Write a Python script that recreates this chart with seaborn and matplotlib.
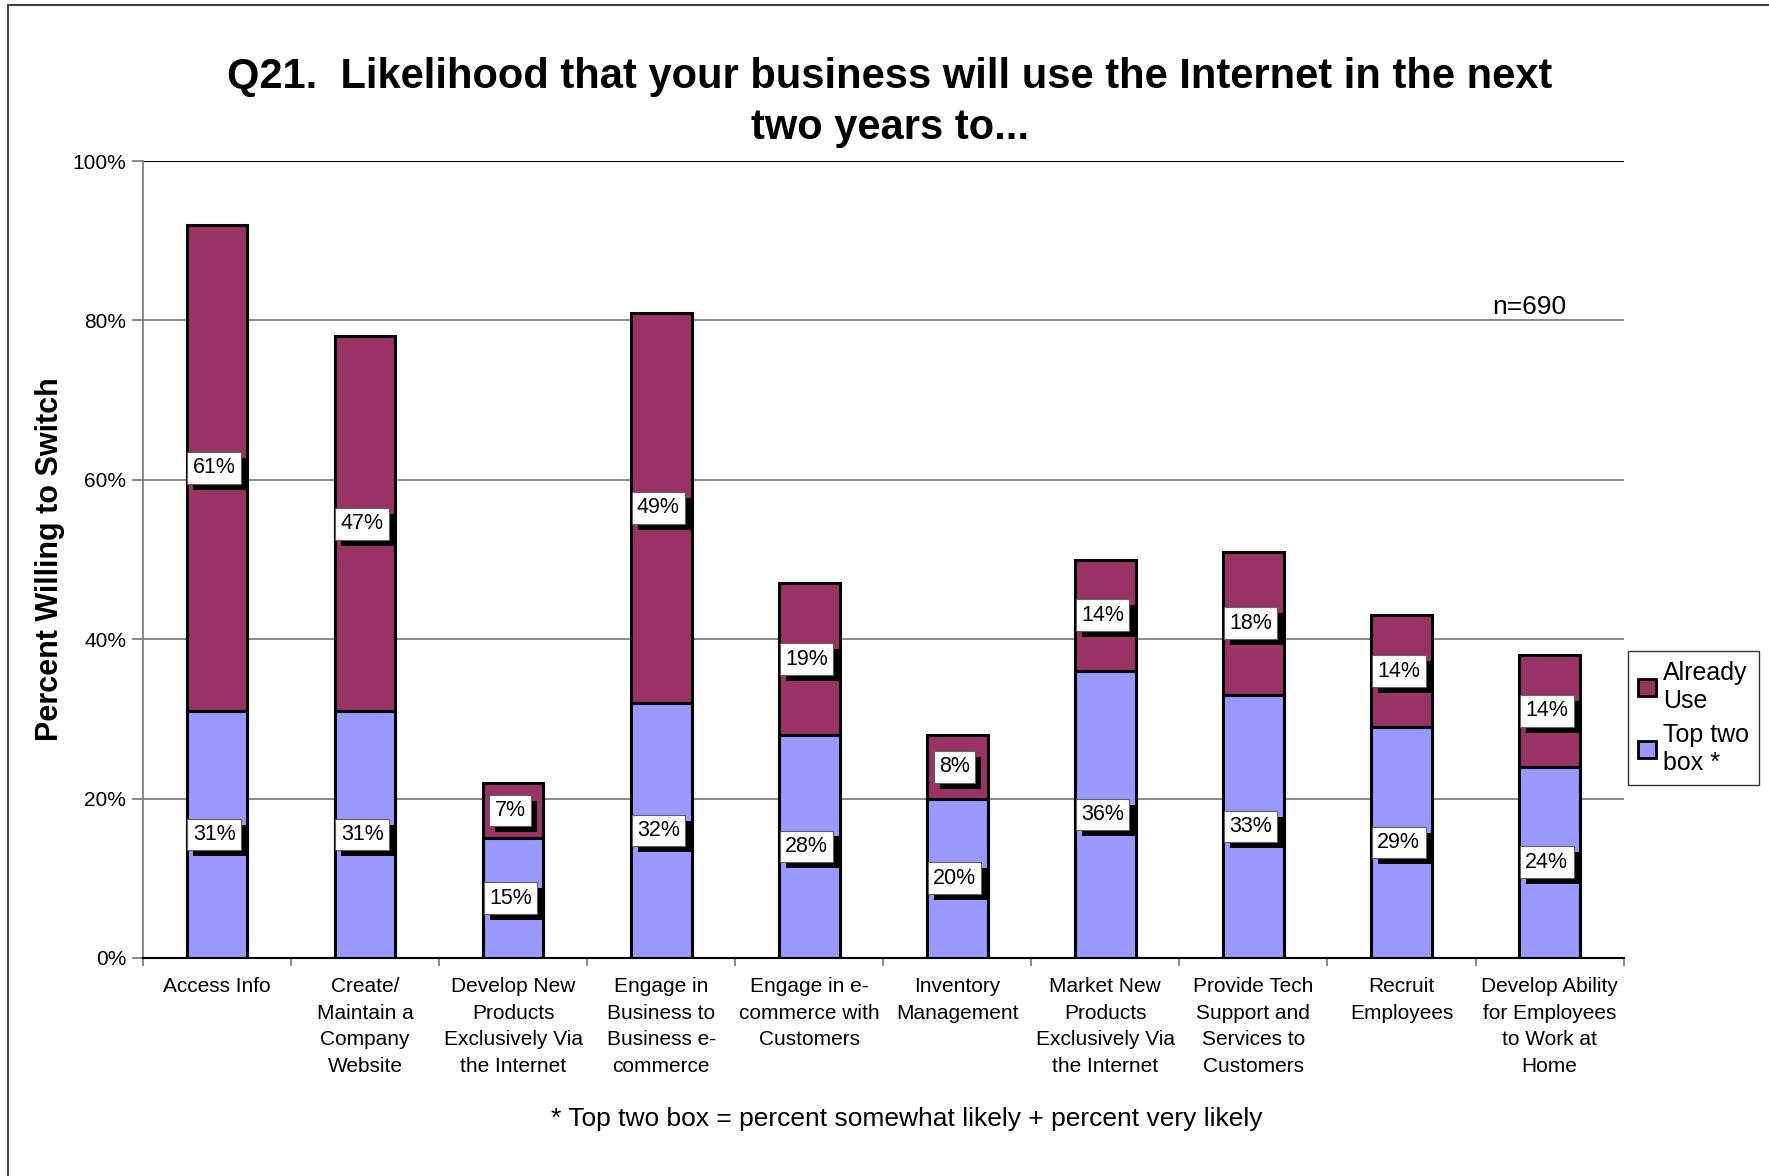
import matplotlib
matplotlib.use("Agg")
import matplotlib.pyplot as plt
import matplotlib.patches as mpatches
import matplotlib.patheffects as pe
import numpy as np
import pandas as pd
import seaborn as sns

categories = [
    "Access Info",
    "Create/\nMaintain a\nCompany\nWebsite",
    "Develop New\nProducts\nExclusively Via\nthe Internet",
    "Engage in\nBusiness to\nBusiness e-\ncommerce",
    "Engage in e-\ncommerce with\nCustomers",
    "Inventory\nManagement",
    "Market New\nProducts\nExclusively Via\nthe Internet",
    "Provide Tech\nSupport and\nServices to\nCustomers",
    "Recruit\nEmployees",
    "Develop Ability\nfor Employees\nto Work at\nHome",
]
top_two = [31, 31, 15, 32, 28, 20, 36, 33, 29, 24]
already_use = [61, 47, 7, 49, 19, 8, 14, 18, 14, 14]
y_ticks = [0, 20, 40, 60, 80, 100]

MAROON = "#993366"
BLUE = "#9999FF"

sns.set_theme(style="white")
plt.rcParams["font.family"] = ["Liberation Sans", "DejaVu Sans"]
plt.rcParams["text.color"] = "black"
plt.rcParams["axes.labelcolor"] = "black"

df = pd.DataFrame({"cat": categories, "top": top_two, "use": already_use})
df["total"] = df["top"] + df["use"]

fig = plt.figure(figsize=(17.69, 11.76), dpi=100)
ax = fig.add_axes([0.0808, 0.1854, 0.837, 0.6776])

# stacked bars: draw totals first, then the lower segment on top
sns.barplot(data=df, x="cat", y="total", color=MAROON, width=0.41,
            edgecolor="black", linewidth=2.2, saturation=1, ax=ax, zorder=3)
sns.barplot(data=df, x="cat", y="top", color=BLUE, width=0.41,
            edgecolor="black", linewidth=2.2, saturation=1, ax=ax, zorder=4)

ax.set_ylim(0, 100)
ax.set_xlim(-0.5, len(categories) - 0.5)
ax.set_yticks(y_ticks)
ax.set_yticklabels([f"{t}%" for t in y_ticks], fontsize=15)
ax.yaxis.grid(True, color="#808080", linewidth=1.3, zorder=0)
ax.axhline(100, color="black", linewidth=1.5, zorder=1)
ax.set_axisbelow(True)

ax.set_xticks(range(len(categories)))
ax.set_xticklabels(categories, fontsize=15, linespacing=1.5, va="top")
ax.tick_params(axis="x", which="major", length=0, pad=14, labelcolor="black")
ax.set_xticks(np.arange(-0.5, len(categories), 1.0), minor=True)
ax.tick_params(axis="x", which="minor", length=6, color="#808080", width=1.3,
               direction="out", bottom=True)
ax.tick_params(axis="y", length=8, color="#808080", width=1.3, left=True,
               direction="out", pad=4, labelcolor="black")

for side in ["top", "right"]:
    ax.spines[side].set_visible(False)
ax.spines["left"].set_color("#808080")
ax.spines["left"].set_linewidth(1.3)
ax.spines["bottom"].set_color("black")
ax.spines["bottom"].set_linewidth(1.5)

ax.set_xlabel("")
ax.set_ylabel("Percent Willing to Switch", fontsize=22, fontweight="bold")
ax.yaxis.set_label_coords(-0.0525, 0.5)

shadow = [pe.SimplePatchShadow(offset=(4.3, -4.3), shadow_rgbFace="black", alpha=1),
          pe.Normal()]


def label(x, y, txt):
    t = ax.annotate(txt, (x, y), xytext=(-2, 0), textcoords="offset points",
                    ha="center", va="center", fontsize=15.5, color="black",
                    bbox=dict(boxstyle="square,pad=0.25", fc="white",
                              ec="#606060", lw=0.8),
                    zorder=7)
    t.get_bbox_patch().set_path_effects(shadow)


for i, (t, u) in enumerate(zip(top_two, already_use)):
    label(i, t / 2, f"{t}%")
    label(i, t + u / 2, f"{u}%")

fig.text(0.503, 0.913, "Q21.  Likelihood that your business will use the Internet in the next\ntwo years to...",
         ha="center", va="center", fontsize=30, fontweight="bold", linespacing=1.37)
fig.text(0.8436, 0.739, "n=690", ha="left", va="center", fontsize=19)
fig.text(0.5127, 0.0485, "* Top two box = percent somewhat likely + percent very likely",
         ha="center", va="center", fontsize=19)

handles = [
    mpatches.Patch(facecolor=MAROON, edgecolor="black", linewidth=2),
    mpatches.Patch(facecolor=BLUE, edgecolor="black", linewidth=2),
]
leg = fig.legend(handles, ["Already\nUse", "Top two\nbox *"], loc="upper left",
                 bbox_to_anchor=(0.9205, 0.4465), fontsize=18, frameon=True,
                 fancybox=False, edgecolor="black", handlelength=0.7,
                 handleheight=0.7, handletextpad=0.3, borderpad=0.4,
                 labelspacing=0.4, borderaxespad=0)
leg.get_frame().set_linewidth(1.0)

# outer chart frame
frame = mpatches.Rectangle((0.0045, -0.1), 1.2, 1.0957, transform=fig.transFigure,
                           fill=False, edgecolor="#404040", linewidth=1.5)
fig.patches.append(frame)

fig.savefig("out.png", dpi=100)
